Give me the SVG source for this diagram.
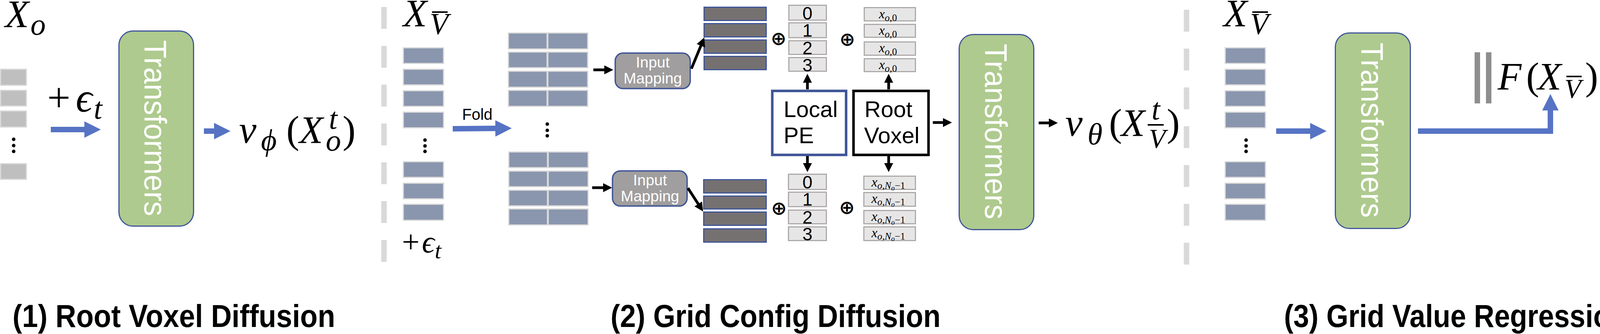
<svg xmlns="http://www.w3.org/2000/svg" width="4465" height="856" viewBox="0 0 4465 856">
<style>
.mi{font-family:"Liberation Serif","DejaVu Serif",serif;font-style:italic;fill:#000}
.mn{font-family:"Liberation Serif","DejaVu Serif",serif;fill:#000}
.cal{font-family:"Liberation Sans Narrow","Liberation Sans",Arial,sans-serif;fill:#000}
.tf{fill:#AECA8E;stroke:#41579A;stroke-width:3}
.tt{font-family:"Liberation Sans",Arial,sans-serif;font-size:80px;fill:#fff}
.sq{fill:#BFBFBF;stroke:#D9D9D9;stroke-width:3}
.bg{fill:#8A96AE;stroke:#D9D9D9;stroke-width:3}
.db{fill:#767171;stroke:#3F5597;stroke-width:3}
.pe{fill:#E7E6E6;stroke:#AEAAAA;stroke-width:3}
.im{fill:#A09E9E;stroke:#3F5597;stroke-width:3.5}
.imt{font-size:39px;fill:#fff;text-anchor:middle}
.sep{stroke:#D9D9D9;stroke-width:14;stroke-dasharray:56 43.5;fill:none}
.bl{stroke:#5673C4;stroke-width:14;fill:none;marker-end:url(#bh)}
.bk{stroke:#000;stroke-width:7;fill:none;marker-end:url(#kh)}
.gr{fill:#8E8E8E}
.gl{stroke:#8E8E8E;stroke-width:14}
.ol{stroke:#000;stroke-width:4}
.op{font-family:"DejaVu Sans",sans-serif;font-weight:bold;font-size:48px;text-anchor:middle;fill:#000}
.pn{font-size:46px;text-anchor:middle}
.bt{font-size:58px}
.lab{font-family:"Liberation Sans Narrow","Liberation Sans",Arial,sans-serif;font-weight:bold;font-size:82px;fill:#000}
</style>
<defs>
<marker id="bh" markerUnits="userSpaceOnUse" viewBox="0 0 42 42" markerWidth="42" markerHeight="42" refX="12" refY="21" orient="auto"><path d="M0,0L42,21L0,42Z" fill="#5673C4"/></marker>
<marker id="kh" markerUnits="userSpaceOnUse" viewBox="0 0 23 23" markerWidth="23" markerHeight="23" refX="8" refY="11.5" orient="auto"><path d="M0,0L23,11.5L0,23Z" fill="#000"/></marker>
</defs>

<g id="separators">
<line class="sep" x1="983" y1="18" x2="983" y2="675"/>
<line class="sep" x1="3037.5" y1="25" x2="3037.5" y2="680"/>
</g>

<!-- Section 1 -->
<g id="root-input">
<text class="mi" font-size="100" x="13" y="69">X</text>
<text class="mi" font-size="78" x="78" y="89">o</text>
<rect class="sq" x="1.5" y="177.5" width="66" height="41"/>
<rect class="sq" x="1.5" y="231.5" width="66" height="40"/>
<rect class="sq" x="1.5" y="284.5" width="66" height="41"/>
<circle cx="35" cy="357" r="4.5"/><circle cx="35" cy="373" r="4.5"/><circle cx="35" cy="388" r="4.5"/>
<rect class="sq" x="1.5" y="419.5" width="66" height="40"/>
</g>
<g id="noise1">
<text class="mn" font-size="105" x="121" y="286">+</text>
<text class="mi" font-size="105" x="194" y="286">ϵ</text>
<text class="mi" font-size="78" x="240" y="304">t</text>
</g>
<g id="transformers1">
<rect class="tf" x="304.5" y="79.5" width="191" height="500" rx="36"/>
<text class="tt" transform="translate(370,103) rotate(90)" textLength="451" lengthAdjust="spacingAndGlyphs">Transformers</text>
</g>
<g id="output1">
<text class="mi" font-size="100" x="612" y="366">v</text>
<text class="mi" font-size="78" x="668" y="385">ϕ</text>
<text class="mn" font-size="100" x="733" y="366">(</text>
<text class="mi" font-size="100" x="766" y="366">X</text>
<text class="mi" font-size="78" x="842" y="330">t</text>
<text class="mi" font-size="78" x="834" y="386">o</text>
<text class="mn" font-size="100" x="877" y="366">)</text>
</g>

<!-- Section 2 -->
<g id="grid-input">
<text class="mi" font-size="100" x="1032" y="67">X</text>
<text class="mi" font-size="78" x="1100" y="87">V</text>
<line class="ol" x1="1106" y1="31" x2="1146" y2="31"/>
<rect class="bg" x="1032.5" y="122.5" width="103" height="40"/>
<rect class="bg" x="1032.5" y="177.5" width="103" height="40"/>
<rect class="bg" x="1032.5" y="232.5" width="103" height="40"/>
<rect class="bg" x="1032.5" y="287.5" width="103" height="40"/>
<circle cx="1088" cy="359" r="4.5"/><circle cx="1088" cy="374" r="4.5"/><circle cx="1088" cy="388" r="4.5"/>
<rect class="bg" x="1032.5" y="414.5" width="103" height="40"/>
<rect class="bg" x="1032.5" y="469.5" width="103" height="40"/>
<rect class="bg" x="1032.5" y="523.5" width="103" height="41"/>
<text class="mn" font-size="80" x="1029" y="647">+</text>
<text class="mi" font-size="80" x="1080" y="647">ϵ</text>
<text class="mi" font-size="60" x="1113" y="662">t</text>
</g>
<g id="fold-label">
<text class="cal" font-size="40" x="1183" y="307">Fold</text>
</g>
<g id="grid-top">
<rect class="bg" x="1301.5" y="84.5" width="99" height="41"/><rect class="bg" x="1402.5" y="84.5" width="102" height="41"/>
<rect class="bg" x="1301.5" y="133.5" width="99" height="40"/><rect class="bg" x="1402.5" y="133.5" width="102" height="40"/>
<rect class="bg" x="1301.5" y="182.5" width="99" height="41"/><rect class="bg" x="1402.5" y="182.5" width="102" height="41"/>
<rect class="bg" x="1301.5" y="231.5" width="99" height="41"/><rect class="bg" x="1402.5" y="231.5" width="102" height="41"/>
</g>
<g id="grid-dots">
<circle cx="1401" cy="318" r="4.5"/><circle cx="1401" cy="334" r="4.5"/><circle cx="1401" cy="348" r="4.5"/>
</g>
<g id="grid-bottom">
<rect class="bg" x="1302.5" y="389.5" width="99" height="40"/><rect class="bg" x="1403.5" y="389.5" width="102" height="40"/>
<rect class="bg" x="1302.5" y="438.5" width="99" height="40"/><rect class="bg" x="1403.5" y="438.5" width="102" height="40"/>
<rect class="bg" x="1302.5" y="487.5" width="99" height="40"/><rect class="bg" x="1403.5" y="487.5" width="102" height="40"/>
<rect class="bg" x="1302.5" y="535.5" width="99" height="41"/><rect class="bg" x="1403.5" y="535.5" width="102" height="41"/>
</g>
<g id="input-mapping-top">
<rect class="im" x="1575" y="136" width="192" height="91" rx="20"/>
<text class="cal imt" x="1671" y="173">Input</text>
<text class="cal imt" x="1671" y="214">Mapping</text>
</g>
<g id="input-mapping-bottom">
<rect class="im" x="1568" y="438" width="191" height="90" rx="20"/>
<text class="cal imt" x="1664" y="475">Input</text>
<text class="cal imt" x="1664" y="516">Mapping</text>
</g>
<g id="tokens-top">
<rect class="db" x="1802.5" y="18.5" width="159" height="34"/>
<rect class="db" x="1802.5" y="60.5" width="159" height="34"/>
<rect class="db" x="1802.5" y="102.5" width="159" height="34"/>
<rect class="db" x="1802.5" y="144.5" width="159" height="34"/>
</g>
<g id="tokens-bottom">
<rect class="db" x="1801.5" y="460.5" width="160" height="34"/>
<rect class="db" x="1801.5" y="502.5" width="160" height="33"/>
<rect class="db" x="1801.5" y="543.5" width="160" height="34"/>
<rect class="db" x="1801.5" y="586.5" width="160" height="34"/>
</g>
<g id="oplus">
<text class="op" x="1993" y="115">⊕</text>
<text class="op" x="2169" y="117">⊕</text>
<text class="op" x="1994" y="550">⊕</text>
<text class="op" x="2168" y="548">⊕</text>
</g>
<g id="pe-top">
<rect class="pe" x="2019.5" y="13.5" width="96" height="38"/>
<rect class="pe" x="2019.5" y="58.5" width="96" height="38"/>
<rect class="pe" x="2019.5" y="104.5" width="96" height="35"/>
<rect class="pe" x="2019.5" y="147.5" width="96" height="35"/>
<text class="cal pn" x="2067" y="50">0</text>
<text class="cal pn" x="2067" y="94">1</text>
<text class="cal pn" x="2067" y="139">2</text>
<text class="cal pn" x="2067" y="183">3</text>
</g>
<g id="pe-bottom">
<rect class="pe" x="2018.5" y="446.5" width="97" height="39"/>
<rect class="pe" x="2018.5" y="492.5" width="97" height="37"/>
<rect class="pe" x="2018.5" y="538.5" width="97" height="35"/>
<rect class="pe" x="2018.5" y="581.5" width="97" height="35"/>
<text class="cal pn" x="2067" y="483">0</text>
<text class="cal pn" x="2067" y="527">1</text>
<text class="cal pn" x="2067" y="573">2</text>
<text class="cal pn" x="2067" y="616">3</text>
</g>
<g id="root-top">
<rect class="pe" x="2212.5" y="19.5" width="131" height="34"/>
<rect class="pe" x="2212.5" y="62.5" width="131" height="33"/>
<rect class="pe" x="2212.5" y="107.5" width="131" height="34"/>
<rect class="pe" x="2212.5" y="150.5" width="131" height="33"/>
<text class="mi" font-size="34" x="2250" y="47">x<tspan font-size="25" dy="7">o,<tspan font-style="normal">0</tspan></tspan></text>
<text class="mi" font-size="34" x="2250" y="89">x<tspan font-size="25" dy="7">o,<tspan font-style="normal">0</tspan></tspan></text>
<text class="mi" font-size="34" x="2250" y="134">x<tspan font-size="25" dy="7">o,<tspan font-style="normal">0</tspan></tspan></text>
<text class="mi" font-size="34" x="2250" y="177">x<tspan font-size="25" dy="7">o,<tspan font-style="normal">0</tspan></tspan></text>
</g>
<g id="root-bottom">
<rect class="pe" x="2211.5" y="451.5" width="132" height="34"/>
<rect class="pe" x="2211.5" y="493.5" width="132" height="35"/>
<rect class="pe" x="2211.5" y="539.5" width="132" height="34"/>
<rect class="pe" x="2211.5" y="581.5" width="132" height="35"/>
<text class="mi" font-size="34" x="2231" y="478">x<tspan font-size="25" dy="6">o,N</tspan><tspan font-size="18" dy="4">o</tspan><tspan font-size="25" dy="-4" font-style="normal">−1</tspan></text>
<text class="mi" font-size="34" x="2231" y="520">x<tspan font-size="25" dy="6">o,N</tspan><tspan font-size="18" dy="4">o</tspan><tspan font-size="25" dy="-4" font-style="normal">−1</tspan></text>
<text class="mi" font-size="34" x="2231" y="566">x<tspan font-size="25" dy="6">o,N</tspan><tspan font-size="18" dy="4">o</tspan><tspan font-size="25" dy="-4" font-style="normal">−1</tspan></text>
<text class="mi" font-size="34" x="2231" y="608">x<tspan font-size="25" dy="6">o,N</tspan><tspan font-size="18" dy="4">o</tspan><tspan font-size="25" dy="-4" font-style="normal">−1</tspan></text>
</g>
<g id="local-pe">
<rect x="1977" y="233" width="189" height="164" fill="#fff" stroke="#3F5597" stroke-width="6.5"/>
<text class="cal bt" x="2006" y="300">Local</text>
<text class="cal bt" x="2006" y="367">PE</text>
</g>
<g id="root-voxel">
<rect x="2185" y="233" width="192" height="164" fill="#fff" stroke="#000" stroke-width="6.5"/>
<text class="cal bt" x="2213" y="300">Root</text>
<text class="cal bt" x="2212" y="367">Voxel</text>
</g>
<g id="transformers2">
<rect class="tf" x="2455.5" y="88.5" width="191" height="500" rx="36"/>
<text class="tt" transform="translate(2522,112) rotate(90)" textLength="450" lengthAdjust="spacingAndGlyphs">Transformers</text>
</g>
<g id="output2">
<text class="mi" font-size="100" x="2727" y="348">v</text>
<text class="mi" font-size="78" x="2784" y="370">θ</text>
<text class="mn" font-size="100" x="2839" y="348">(</text>
<text class="mi" font-size="100" x="2870" y="348">X</text>
<text class="mi" font-size="78" x="2948" y="306">t</text>
<line class="ol" x1="2938" y1="320" x2="2979" y2="320"/>
<text class="mi" font-size="70" x="2941" y="379">V</text>
<text class="mn" font-size="100" x="2987" y="348">)</text>
</g>

<!-- Section 3 -->
<g id="value-input">
<text class="mi" font-size="100" x="3132" y="67">X</text>
<text class="mi" font-size="78" x="3200" y="87">V</text>
<line class="ol" x1="3206" y1="31" x2="3246" y2="31"/>
<rect class="bg" x="3136.5" y="122.5" width="103" height="40"/>
<rect class="bg" x="3136.5" y="177.5" width="103" height="40"/>
<rect class="bg" x="3136.5" y="232.5" width="103" height="40"/>
<rect class="bg" x="3136.5" y="287.5" width="103" height="40"/>
<circle cx="3190" cy="359" r="4.5"/><circle cx="3190" cy="374" r="4.5"/><circle cx="3190" cy="388" r="4.5"/>
<rect class="bg" x="3136.5" y="414.5" width="103" height="40"/>
<rect class="bg" x="3136.5" y="469.5" width="103" height="40"/>
<rect class="bg" x="3136.5" y="523.5" width="103" height="41"/>
</g>
<g id="transformers3">
<rect class="tf" x="3418.5" y="84.5" width="192" height="501" rx="36"/>
<text class="tt" transform="translate(3485,109) rotate(90)" textLength="449" lengthAdjust="spacingAndGlyphs">Transformers</text>
</g>
<g id="loss">
<line class="gl" x1="3782" y1="134" x2="3782" y2="265"/>
<line class="gl" x1="3811" y1="134" x2="3811" y2="265"/>
<text class="mi" font-size="100" x="3834" y="229">F</text>
<text class="mn" font-size="100" x="3907" y="229">(</text>
<text class="mi" font-size="100" x="3936" y="229">X</text>
<text class="mi" font-size="70" x="4005" y="251">V</text>
<line class="ol" x1="4010" y1="196" x2="4049" y2="196"/>
<text class="mn" font-size="100" x="4058" y="229">)</text>
<text class="mn gr" font-size="100" x="4127" y="229">−</text>
<text class="mi gr" font-size="100" x="4213" y="229">X</text>
<text class="mi gr" font-size="70" x="4276" y="251">V</text>
<line class="gl" x1="4348" y1="127" x2="4348" y2="258"/>
<line class="gl" x1="4376" y1="127" x2="4376" y2="258"/>
<text class="gr" font-family="Liberation Sans, sans-serif" font-size="110" x="4408" y="277">2</text>
</g>

<g id="labels">
<text class="lab" x="32" y="838" textLength="826" lengthAdjust="spacingAndGlyphs">(1) Root Voxel Diffusion</text>
<text class="lab" x="1563" y="838" textLength="845" lengthAdjust="spacingAndGlyphs">(2) Grid Config Diffusion</text>
<text class="lab" x="3287" y="838" textLength="880" lengthAdjust="spacingAndGlyphs">(3) Grid Value Regression</text>
</g>

<g id="connectors">
<line class="bl" x1="130" y1="332" x2="228" y2="332"/>
<line class="bl" x1="522" y1="336" x2="560" y2="336"/>
<line class="bl" x1="1159" y1="330" x2="1280" y2="329"/>
<line class="bl" x1="3267" y1="336" x2="3366" y2="336"/>
<path class="bl" d="M3630,336H3969V271"/>
<line class="bk" x1="1519" y1="179" x2="1555" y2="179"/>
<line class="bk" x1="1516" y1="481" x2="1552" y2="481"/>
<line class="bk" x1="1770" y1="176" x2="1797.3" y2="109.9"/>
<line class="bk" x1="1761" y1="482" x2="1791.8" y2="529.4"/>
<line class="bk" x1="2067" y1="229" x2="2067" y2="204"/>
<line class="bk" x1="2275" y1="229" x2="2275" y2="204"/>
<line class="bk" x1="2067" y1="400" x2="2067" y2="426"/>
<line class="bk" x1="2275" y1="400" x2="2275" y2="426"/>
<line class="bk" x1="2388" y1="314" x2="2422" y2="314"/>
<line class="bk" x1="2659" y1="315" x2="2693" y2="315"/>
</g>
</svg>
